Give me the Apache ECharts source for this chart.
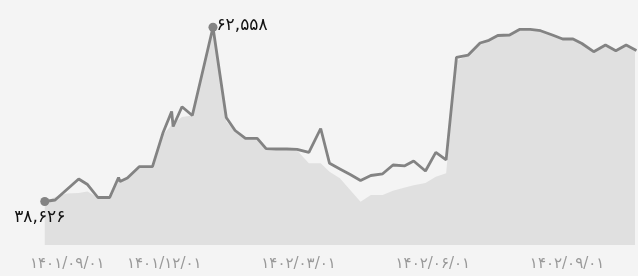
<!DOCTYPE html>
<html>
<head>
<meta charset="utf-8">
<script src="https://cdn.jsdelivr.net/npm/echarts@6/dist/echarts.min.js"></script>
<style>
  html, body { margin: 0; padding: 0; background: #f4f4f4; }
  #chart { width: 638px; height: 276px; }
</style>
</head>
<body>
<div id="chart"></div>
<script>
// x = days since 1401/09/01
const days = [10, 17, 25, 33, 39, 46, 54, 60, 61, 66, 74, 83, 90, 96, 97, 103, 110, 117, 124,
  133, 139, 146, 154, 160, 167, 174, 181, 189, 197, 203, 210, 217, 224, 231, 239, 246, 254,
  260, 268, 275, 282, 289, 297, 305, 311, 317, 325, 332, 339, 346, 354, 361, 368, 374, 382,
  390, 397, 404, 411];

const priceLine = [38626, 38832, 40275, 41717, 40961, 39176, 39176, 41923, 41374, 41854, 43407,
  43407, 47995, 50990, 48930, 51650, 50441, 56485, 62558,
  50166, 48380, 47309, 47309, 45880, 45838, 45838, 45797, 45385, 48655, 43874, 43105, 42335,
  41511, 42198, 42431, 43640, 43530, 44190, 42816, 45385, 44355, 58436, 58752, 60401, 60772,
  61431, 61500, 62283, 62283, 62091, 61500, 60950, 60950, 60332, 59206, 60126, 59343, 60126,
  59370];

const priceArea = [38626, 39244, 39725, 39794, 40000, 39176, 39176, 41580, 41374, 41854, 43407,
  43407, 47762, 49136, 49273, 50235, 50441, 56485, 62558,
  49616, 48243, 47309, 47309, 45880, 45838, 45838, 45632, 43874, 43874, 42720, 41813, 40206,
  38599, 39519, 39519, 40110, 40549, 40852, 41168, 42033, 42500, 57928, 58752, 60401, 60772,
  61431, 61500, 62283, 62283, 62091, 61500, 60950, 60950, 60332, 59206, 60126, 59343, 60126,
  59370];

const tickDays = [0, 91, 182, 273, 364];
const tickLabels = ["۱۴۰۱/۰۹/۰۱", "۱۴۰۱/۱۲/۰۱", "۱۴۰۲/۰۳/۰۱", "۱۴۰۲/۰۶/۰۱", "۱۴۰۲/۰۹/۰۱"];

const FONT = "DejaVu Sans";
const LINE_COLOR = "#838383";
const AREA_COLOR = "#e0e0e0";

function toFa(s) {
  return String(s).replace(/[0-9]/g, (d) => "۰۱۲۳۴۵۶۷۸۹"[d]);
}

const chart = echarts.init(document.getElementById("chart"), null, { renderer: "canvas" });

chart.setOption({
  animation: false,
  backgroundColor: "#f4f4f4",
  grid: { left: 30, right: 0, top: 10, bottom: 31 },
  xAxis: {
    type: "value",
    min: 0,
    max: 410,
    interval: 91,
    axisLine: { show: false },
    axisTick: { show: false },
    splitLine: { show: false },
    axisLabel: {
      color: "#999999",
      fontFamily: FONT,
      fontSize: 15,
      margin: 12,
      alignMinLabel: "left",
      formatter: (v) => {
        const i = tickDays.indexOf(v);
        return i >= 0 ? tickLabels[i] : "";
      },
    },
  },
  yAxis: {
    type: "value",
    min: 32650,
    max: 64935,
    show: false,
    splitLine: { show: false },
  },
  series: [
    {
      type: "line",
      data: days.map((d, i) => [d, priceArea[i]]),
      symbol: "none",
      lineStyle: { width: 0, color: AREA_COLOR },
      areaStyle: { color: AREA_COLOR, opacity: 1 },
      z: 1,
    },
    {
      type: "line",
      data: days.map((d, i) => [d, priceLine[i]]),
      symbol: "none",
      lineStyle: { width: 2.8, color: LINE_COLOR },
      itemStyle: { color: LINE_COLOR },
      z: 2,
      markPoint: {
        symbol: "circle",
        symbolSize: 9,
        itemStyle: { color: LINE_COLOR },
        label: {
          show: true,
          color: "#111111",
          fontFamily: FONT,
          fontSize: 17,
          formatter: (p) => toFa(p.value.toLocaleString("en-US")),
        },
        data: [
          { type: "max", label: { position: "right", distance: -1, offset: [0, -2] } },
          { type: "min", label: { position: "bottom", distance: 3, offset: [-5, 0] } },
        ],
      },
    },
  ],
});
</script>
</body>
</html>
